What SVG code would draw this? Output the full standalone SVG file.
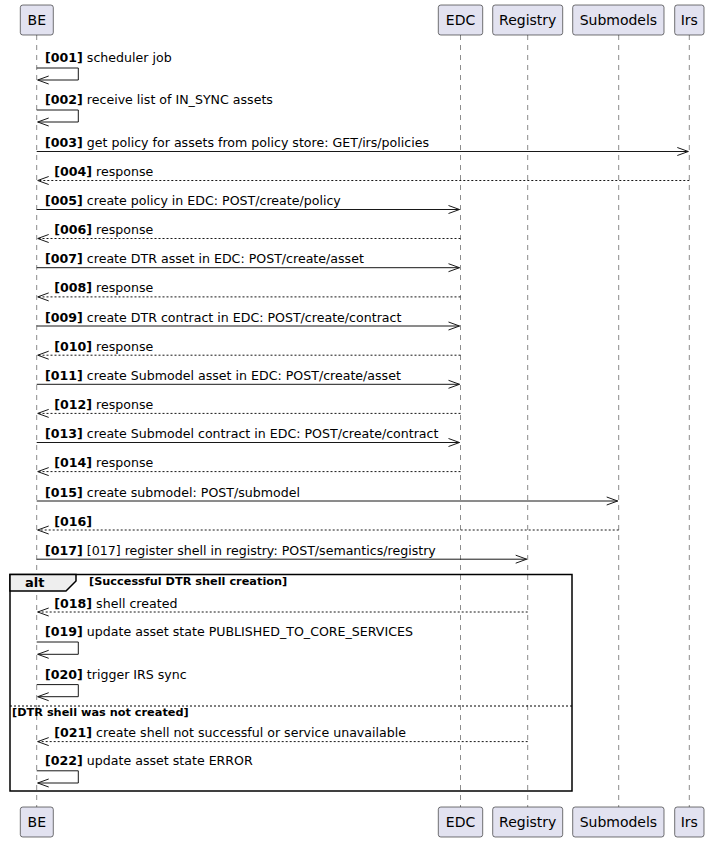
<svg xmlns="http://www.w3.org/2000/svg" width="709" height="842" viewBox="0 0 709 842">
<style>
  .pbox { fill: #E2E2F0; stroke: #181818; stroke-width: 0.6; }
  .pname { font-family: "DejaVu Sans", sans-serif; font-size: 14px; fill: #000; text-anchor: middle; }
  .life { stroke: #181818; stroke-width: 0.5; stroke-dasharray: 5,5; fill: none; }
  .msg { stroke: #181818; stroke-width: 1; fill: none; marker-end: url(#ah); }
  .ret { stroke: #181818; stroke-width: 1; fill: none; stroke-dasharray: 2,2; marker-end: url(#ah); }
  .lbl { font-family: "DejaVu Sans", sans-serif; font-size: 12.6px; fill: #000; }
  .num { font-weight: bold; }
  .frame { fill: none; stroke: #000; stroke-width: 1.5; }
  .tab { fill: #EEEEEE; stroke: #000; stroke-width: 1.5; }
  .sep { stroke: #000; stroke-width: 1; stroke-dasharray: 2,2; }
  .ftxt { font-family: "DejaVu Sans", sans-serif; font-size: 11.3px; font-weight: bold; fill: #000; }
  .alt { font-family: "DejaVu Sans", sans-serif; font-size: 13px; font-weight: bold; fill: #000; }
</style>
<defs>
  <marker id="ah" markerUnits="userSpaceOnUse" markerWidth="14" markerHeight="10" refX="11" refY="4.5" orient="auto" overflow="visible">
    <path d="M0,0.5 L11,4.5 L0,8.5" fill="none" stroke="#181818" stroke-width="1"/>
  </marker>
</defs>

<g id="lifelines">
  <line class="life" x1="36.7" y1="35" x2="36.7" y2="807"/>
  <line class="life" x1="460.5" y1="35" x2="460.5" y2="807"/>
  <line class="life" x1="527.7" y1="35" x2="527.7" y2="807"/>
  <line class="life" x1="618.7" y1="35" x2="618.7" y2="807"/>
  <line class="life" x1="689.3" y1="35" x2="689.3" y2="807"/>
</g>

<g id="BE">
  <rect class="pbox" x="20.3" y="5" width="33" height="30" rx="2.5"/>
  <text class="pname" x="36.8" y="25">BE</text>
  <rect class="pbox" x="20.3" y="807" width="33" height="30" rx="2.5"/>
  <text class="pname" x="36.8" y="827">BE</text>
</g>
<g id="EDC">
  <rect class="pbox" x="438.3" y="5" width="44.4" height="30" rx="2.5"/>
  <text class="pname" x="460.5" y="25">EDC</text>
  <rect class="pbox" x="438.3" y="807" width="44.4" height="30" rx="2.5"/>
  <text class="pname" x="460.5" y="827">EDC</text>
</g>
<g id="Registry">
  <rect class="pbox" x="492.7" y="5" width="70" height="30" rx="2.5"/>
  <text class="pname" x="527.7" y="25">Registry</text>
  <rect class="pbox" x="492.7" y="807" width="70" height="30" rx="2.5"/>
  <text class="pname" x="527.7" y="827">Registry</text>
</g>
<g id="Submodels">
  <rect class="pbox" x="572.7" y="5" width="91.3" height="30" rx="2.5"/>
  <text class="pname" x="618.4" y="25">Submodels</text>
  <rect class="pbox" x="572.7" y="807" width="91.3" height="30" rx="2.5"/>
  <text class="pname" x="618.4" y="827">Submodels</text>
</g>
<g id="Irs">
  <rect class="pbox" x="674.7" y="5" width="29.3" height="30" rx="2.5"/>
  <text class="pname" x="689.3" y="25">Irs</text>
  <rect class="pbox" x="674.7" y="807" width="29.3" height="30" rx="2.5"/>
  <text class="pname" x="689.3" y="827">Irs</text>
</g>

<g id="alt-frame">
  <rect class="frame" x="10" y="574.5" width="562" height="216.5"/>
  <path class="tab" d="M10,574.5 L76,574.5 L76,581 L66,591 L10,591 Z"/>
  <text class="alt" x="25" y="587">alt</text>
  <text class="ftxt" x="89" y="585">[Successful DTR shell creation]</text>
  <line class="sep" x1="10" y1="706" x2="572" y2="706"/>
  <text class="ftxt" x="12" y="716">[DTR shell was not created]</text>
</g>

<g id="connectors">
  <path class="msg" d="M36.7,68 H78.3 V80 H37.7"/>
  <text class="lbl" x="45" y="62"><tspan class="num">[001]</tspan> scheduler job</text>

  <path class="msg" d="M36.7,110 H78.3 V122 H37.7"/>
  <text class="lbl" x="45" y="104"><tspan class="num">[002]</tspan> receive list of IN_SYNC assets</text>

  <line class="msg" x1="36.7" y1="151.5" x2="688.3" y2="151.5"/>
  <text class="lbl" x="45" y="147"><tspan class="num">[003]</tspan> get policy for assets from policy store: GET/irs/policies</text>

  <line class="ret" x1="689.3" y1="180.5" x2="37.7" y2="180.5"/>
  <text class="lbl" x="54.3" y="176"><tspan class="num">[004]</tspan> response</text>

  <line class="msg" x1="36.7" y1="209.5" x2="459.5" y2="209.5"/>
  <text class="lbl" x="45" y="205"><tspan class="num">[005]</tspan> create policy in EDC: POST/create/policy</text>

  <line class="ret" x1="460.5" y1="238.5" x2="37.7" y2="238.5"/>
  <text class="lbl" x="54.3" y="234"><tspan class="num">[006]</tspan> response</text>

  <line class="msg" x1="36.7" y1="267.7" x2="459.5" y2="267.7"/>
  <text class="lbl" x="45" y="263.2"><tspan class="num">[007]</tspan> create DTR asset in EDC: POST/create/asset</text>

  <line class="ret" x1="460.5" y1="296.9" x2="37.7" y2="296.9"/>
  <text class="lbl" x="54.3" y="292.4"><tspan class="num">[008]</tspan> response</text>

  <line class="msg" x1="36.7" y1="326" x2="459.5" y2="326"/>
  <text class="lbl" x="45" y="321.5"><tspan class="num">[009]</tspan> create DTR contract in EDC: POST/create/contract</text>

  <line class="ret" x1="460.5" y1="355.2" x2="37.7" y2="355.2"/>
  <text class="lbl" x="54.3" y="350.7"><tspan class="num">[010]</tspan> response</text>

  <line class="msg" x1="36.7" y1="384.3" x2="459.5" y2="384.3"/>
  <text class="lbl" x="45" y="379.8"><tspan class="num">[011]</tspan> create Submodel asset in EDC: POST/create/asset</text>

  <line class="ret" x1="460.5" y1="413.4" x2="37.7" y2="413.4"/>
  <text class="lbl" x="54.3" y="408.9"><tspan class="num">[012]</tspan> response</text>

  <line class="msg" x1="36.7" y1="442.5" x2="459.5" y2="442.5"/>
  <text class="lbl" x="45" y="438"><tspan class="num">[013]</tspan> create Submodel contract in EDC: POST/create/contract</text>

  <line class="ret" x1="460.5" y1="471.6" x2="37.7" y2="471.6"/>
  <text class="lbl" x="54.3" y="467.1"><tspan class="num">[014]</tspan> response</text>

  <line class="msg" x1="36.7" y1="501" x2="617.7" y2="501"/>
  <text class="lbl" x="45" y="496.5"><tspan class="num">[015]</tspan> create submodel: POST/submodel</text>

  <line class="ret" x1="618.7" y1="530" x2="37.7" y2="530"/>
  <text class="lbl" x="54.3" y="525.5"><tspan class="num">[016]</tspan></text>

  <line class="msg" x1="36.7" y1="559.2" x2="526.7" y2="559.2"/>
  <text class="lbl" x="45" y="554.7"><tspan class="num">[017]</tspan> [017] register shell in registry: POST/semantics/registry</text>

  <line class="ret" x1="527.7" y1="612" x2="37.7" y2="612"/>
  <text class="lbl" x="54.3" y="607.5"><tspan class="num">[018]</tspan> shell created</text>

  <path class="msg" d="M36.7,642 H78.3 V654.3 H37.7"/>
  <text class="lbl" x="45" y="636.2"><tspan class="num">[019]</tspan> update asset state PUBLISHED_TO_CORE_SERVICES</text>

  <path class="msg" d="M36.7,684.6 H78.3 V696.7 H37.7"/>
  <text class="lbl" x="45" y="678.8"><tspan class="num">[020]</tspan> trigger IRS sync</text>

  <line class="ret" x1="527.7" y1="741.6" x2="37.7" y2="741.6"/>
  <text class="lbl" x="54.3" y="737.1"><tspan class="num">[021]</tspan> create shell not successful or service unavailable</text>

  <path class="msg" d="M36.7,770.8 H78.3 V783 H37.7"/>
  <text class="lbl" x="45" y="765"><tspan class="num">[022]</tspan> update asset state ERROR</text>
</g>
</svg>
